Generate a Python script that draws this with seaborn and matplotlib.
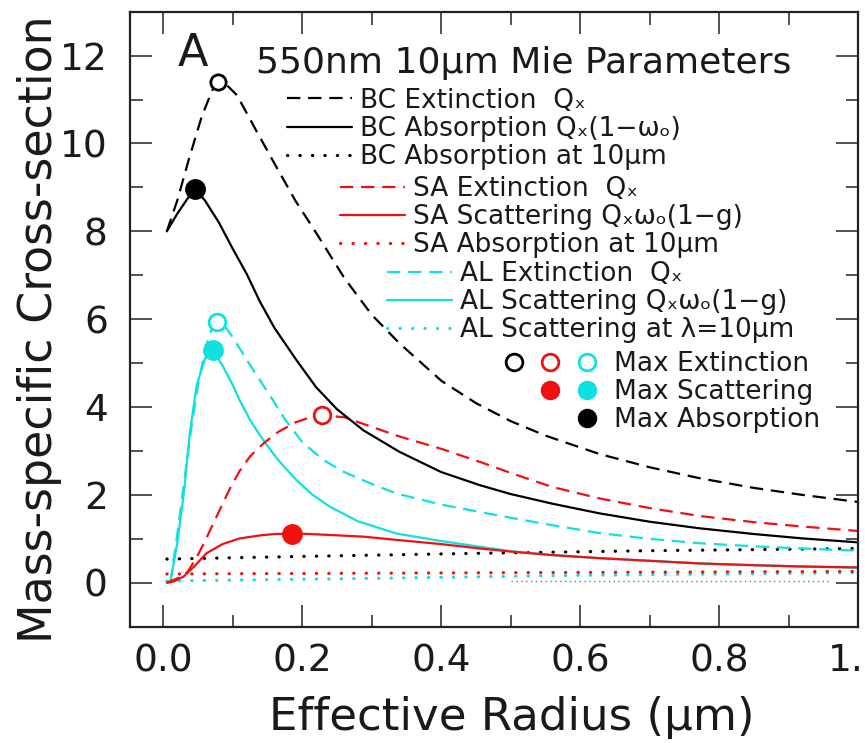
import numpy as np
import pandas as pd
import matplotlib
matplotlib.use("Agg")
import matplotlib.pyplot as plt
import seaborn as sns
from matplotlib.lines import Line2D
from matplotlib.legend_handler import HandlerTuple
from matplotlib.ticker import MultipleLocator

# ---------------- data ----------------
bc_ext_x = [0.005, 0.02, 0.036, 0.055, 0.07, 0.078, 0.09, 0.106, 0.13, 0.158, 0.19, 0.221,
            0.26, 0.3, 0.34, 0.4, 0.45, 0.5, 0.55, 0.628, 0.7, 0.772, 0.85, 0.92, 1.0]
bc_ext_y = [8.0, 8.7, 9.6, 10.6, 11.2, 11.4, 11.35, 11.1, 10.4, 9.6, 8.7, 7.94,
            6.95, 6.1, 5.45, 4.6, 4.09, 3.68, 3.35, 2.93, 2.63, 2.38, 2.16, 2.0, 1.84]

bc_abs_x = [0.005, 0.02, 0.035, 0.046, 0.06, 0.08, 0.1, 0.12, 0.139, 0.16, 0.192, 0.22,
            0.25, 0.288, 0.34, 0.4, 0.456, 0.5, 0.56, 0.628, 0.7, 0.772, 0.85, 0.92, 1.0]
bc_abs_y = [8.0, 8.4, 8.75, 8.96, 8.7, 8.2, 7.6, 7.03, 6.4, 5.8, 5.06, 4.45,
            3.95, 3.47, 2.98, 2.52, 2.22, 2.02, 1.8, 1.58, 1.39, 1.24, 1.11, 1.01, 0.92]

bc_ir_x = [0.005, 0.2, 0.45, 0.7, 1.0]
bc_ir_y = [0.54, 0.6, 0.67, 0.73, 0.78]

sa_ext_x = [0.005, 0.02, 0.035, 0.048, 0.06, 0.077, 0.096, 0.11, 0.125, 0.144, 0.165, 0.19,
            0.21, 0.229, 0.26, 0.3, 0.34, 0.4, 0.456, 0.5, 0.56, 0.628, 0.7, 0.772, 0.85,
            0.92, 1.0]
sa_ext_y = [0.0, 0.1, 0.25, 0.58, 0.95, 1.52, 2.15, 2.55, 2.88, 3.17, 3.43, 3.65,
            3.76, 3.81, 3.77, 3.55, 3.33, 3.05, 2.75, 2.5, 2.18, 1.92, 1.7, 1.52, 1.38,
            1.28, 1.18]

sa_sca_x = [0.005, 0.015, 0.029, 0.045, 0.062, 0.085, 0.11, 0.14, 0.16, 0.185, 0.21, 0.25,
            0.288, 0.34, 0.4, 0.456, 0.5, 0.56, 0.628, 0.7, 0.772, 0.85, 0.92, 1.0]
sa_sca_y = [0.0, 0.03, 0.14, 0.38, 0.67, 0.88, 1.01, 1.08, 1.11, 1.12, 1.11, 1.08,
            1.05, 0.97, 0.88, 0.78, 0.71, 0.63, 0.56, 0.5, 0.44, 0.4, 0.37, 0.35]

sa_ir_x = [0.005, 0.5, 1.0]
sa_ir_y = [0.2, 0.23, 0.26]

al_ext_x = [0.01, 0.02, 0.03, 0.04, 0.05, 0.06, 0.07, 0.077, 0.088, 0.1, 0.125, 0.154, 0.175,
            0.2, 0.23, 0.259, 0.3, 0.336, 0.4, 0.456, 0.5, 0.56, 0.628, 0.7, 0.772, 0.85, 0.92, 1.0]
al_ext_y = [0.0, 1.1, 2.3, 3.5, 4.5, 5.3, 5.8, 5.93, 5.85, 5.59, 4.95, 4.25, 3.72,
            3.2, 2.8, 2.53, 2.25, 2.03, 1.78, 1.61, 1.48, 1.31, 1.13, 1.0, 0.9, 0.83, 0.78, 0.73]

al_sca_x = [0.01, 0.02, 0.03, 0.038, 0.048, 0.06, 0.071, 0.085, 0.1, 0.11, 0.125, 0.144, 0.165,
            0.192, 0.215, 0.24, 0.28, 0.336, 0.4, 0.456, 0.5, 0.56, 0.628, 0.7, 0.772, 0.85, 0.92, 1.0]
al_sca_y = [0.0, 0.9, 2.1, 3.4, 4.5, 5.1, 5.29, 4.95, 4.5, 4.15, 3.7, 3.24, 2.8,
            2.33, 2.0, 1.73, 1.4, 1.12, 0.95, 0.82, 0.72, 0.63, 0.56, 0.5, 0.44, 0.4, 0.37, 0.34]

al_ir_x = [0.005, 0.3, 0.6, 1.0]
al_ir_y = [0.04, 0.1, 0.17, 0.23]

zero_x = [0.5, 0.96]
zero_y = [0.03, 0.03]

x_ticks = [0.0, 0.2, 0.4, 0.6, 0.8, 1.0]
x_ticklabels = ["0.0", "0.2", "0.4", "0.6", "0.8", "1.0"]
y_ticks = [0, 2, 4, 6, 8, 10, 12]
y_ticklabels = ["0", "2", "4", "6", "8", "10", "12"]

labels_bc = ["BC Extinction  Qₓ", "BC Absorption Qₓ(1−ωₒ)", "BC Absorption at 10μm"]
labels_sa = ["SA Extinction  Qₓ", "SA Scattering Qₓωₒ(1−g)", "SA Absorption at 10μm"]
labels_al = ["AL Extinction  Qₓ", "AL Scattering Qₓωₒ(1−g)", "AL Scattering at λ=10μm"]
labels_max = ["Max Extinction", "Max Scattering", "Max Absorption"]

# ---------------- style ----------------
sns.set_theme(style="ticks")
plt.rcParams['font.family'] = ['DejaVu Sans']
TXT = '#1a1a1a'
plt.rcParams.update({'axes.edgecolor': '#222222', 'text.color': TXT,
                     'axes.labelcolor': TXT, 'xtick.color': '#222222',
                     'ytick.color': '#222222', 'xtick.labelcolor': TXT,
                     'ytick.labelcolor': TXT})

BLACK = '#000000'
RED = '#f01010'
CYAN = '#10e0e0'
LW = 1.6
DASH = (0, (6, 3.5))
DOT = (0, (0.1, 3.8))
DOT_LW = 2.3

fig = plt.figure(figsize=(8.65, 7.43), dpi=100)
ax = fig.add_axes([130 / 865, (743 - 626.7) / 743, 728 / 865, 615 / 743])


def line(x, y, color, ls, lw=LW):
    sns.lineplot(x=x, y=y, ax=ax, color=color, linestyle=ls, linewidth=lw,
                 sort=False, estimator=None, legend=False,
                 dash_capstyle='round' if ls is DOT else 'butt')


line(zero_x, zero_y, '#777777', (0, (1, 2.5)), lw=1.0)
line(al_ir_x, al_ir_y, CYAN, DOT, DOT_LW)
line(sa_ir_x, sa_ir_y, RED, DOT, DOT_LW)
line(bc_ir_x, bc_ir_y, BLACK, DOT, DOT_LW)
line(al_ext_x, al_ext_y, CYAN, DASH)
line(al_sca_x, al_sca_y, CYAN, '-')
line(sa_ext_x, sa_ext_y, RED, DASH)
line(sa_sca_x, sa_sca_y, RED, '-')
line(bc_ext_x, bc_ext_y, BLACK, DASH)
line(bc_abs_x, bc_abs_y, BLACK, '-')


def peak(x, y):
    i = int(np.argmax(y))
    return [x[i]], [y[i]]


def marker(x, y, color, filled, ms):
    px, py = peak(x, y)
    sns.lineplot(x=px, y=py, ax=ax, linestyle='none', marker='o', markersize=ms,
                 markerfacecolor=color if filled else 'white',
                 markeredgecolor=color, markeredgewidth=2.0, legend=False,
                 estimator=None)
    ax.lines[-1].set_zorder(5)


marker(bc_ext_x, bc_ext_y, BLACK, False, 11)
marker(sa_ext_x, sa_ext_y, RED, False, 12)
marker(al_ext_x, al_ext_y, CYAN, False, 12)
marker(bc_abs_x, bc_abs_y, BLACK, True, 13)
marker(sa_sca_x, sa_sca_y, RED, True, 13)
marker(al_sca_x, al_sca_y, CYAN, True, 13)

# ---------------- axes ----------------
ax.set_xlim(-0.048, 1.0)
ax.set_ylim(-1.0, 13.0)
ax.set_xticks(x_ticks)
ax.set_xticklabels(x_ticklabels)
ax.set_yticks(y_ticks)
ax.set_yticklabels(y_ticklabels)
ax.xaxis.set_minor_locator(MultipleLocator(0.1))
ax.yaxis.set_minor_locator(MultipleLocator(1))
ax.tick_params(which='both', direction='in', top=True, right=True)
ax.tick_params(which='major', length=16, width=1.1, labelsize=27)
ax.tick_params(which='minor', length=9, width=1.1)
ax.tick_params(axis='x', which='major', pad=12)
ax.tick_params(axis='y', which='major', pad=16)
for s in ax.spines.values():
    s.set_linewidth(1.6)

ax.set_xlabel("Effective Radius (μm)", fontsize=32.5)
ax.set_ylabel("Mass-specific Cross-section", fontsize=33)
ax.xaxis.set_label_coords(0.524, -0.1675)
ax.xaxis.label.set_verticalalignment('baseline')
ax.yaxis.set_label_coords(-0.107, 0.483)
ax.yaxis.label.set_verticalalignment('baseline')

ax.text(0.086, 0.911, "A", transform=ax.transAxes, fontsize=32,
        ha='center', va='baseline')
ax.text(0.173, 0.900, "550nm 10μm Mie Parameters", transform=ax.transAxes,
        fontsize=26, ha='left', va='baseline')

# ---------------- legends ----------------
LFS = 19
common = dict(frameon=False, fontsize=LFS, borderpad=0, borderaxespad=0,
              labelspacing=0.085, handlelength=2.45, handletextpad=0.3,
              loc='upper left')


def group_handles(color):
    return [Line2D([], [], color=color, lw=LW, linestyle=DASH),
            Line2D([], [], color=color, lw=LW, linestyle='-'),
            Line2D([], [], color=color, lw=DOT_LW, linestyle=DOT,
                   dash_capstyle='round')]


leg1 = ax.legend(group_handles(BLACK), labels_bc, bbox_to_anchor=(0.216, 0.8767), **common)
ax.add_artist(leg1)
leg2 = ax.legend(group_handles(RED), labels_sa, bbox_to_anchor=(0.2885, 0.7332), **common)
ax.add_artist(leg2)
leg3 = ax.legend(group_handles(CYAN), labels_al, bbox_to_anchor=(0.353, 0.595), **common)
ax.add_artist(leg3)


def mk(color, filled):
    return Line2D([], [], linestyle='none', marker='o', markersize=12,
                  markerfacecolor=color if filled else 'white',
                  markeredgecolor=color, markeredgewidth=2.0)


blank = Line2D([], [], linestyle='none')
max_handles = [(mk(BLACK, False), mk(RED, False), mk(CYAN, False)),
               (blank, mk(RED, True), mk(CYAN, True)),
               (blank, blank, mk(BLACK, True))]
leg4 = ax.legend(max_handles, labels_max, bbox_to_anchor=(0.502, 0.4486),
                 handler_map={tuple: HandlerTuple(ndivide=None, pad=0)},
                 frameon=False, fontsize=LFS, borderpad=0, borderaxespad=0,
                 labelspacing=0.085, handlelength=4.15, handletextpad=0.34,
                 numpoints=1, loc='upper left')

fig.savefig("out.png", dpi=100, facecolor='white')
